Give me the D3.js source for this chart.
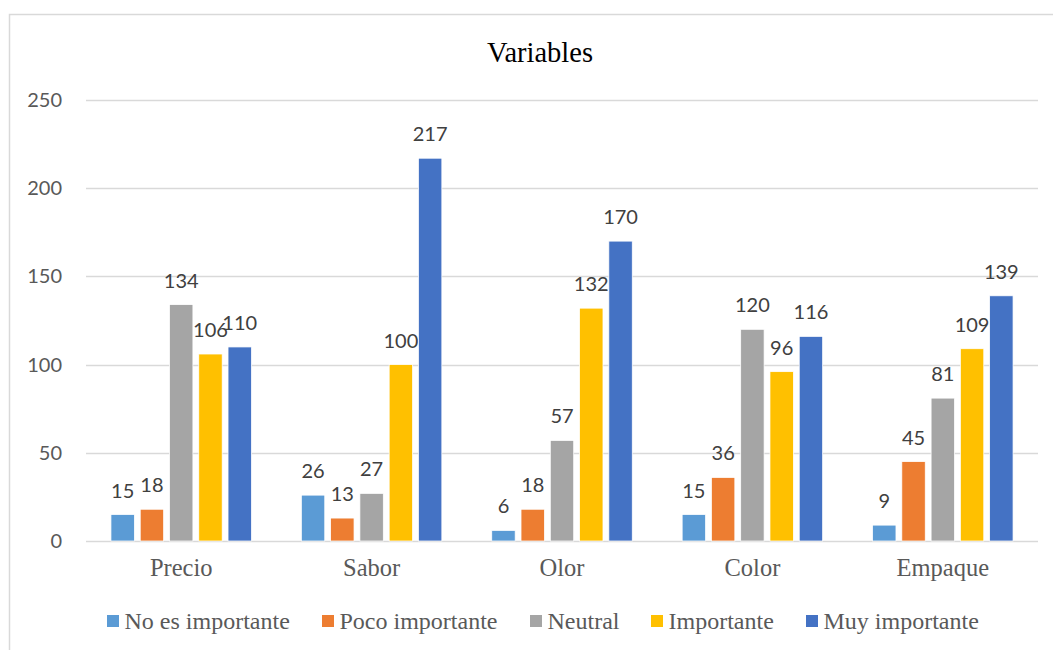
<!DOCTYPE html>
<html>
<head>
<meta charset="utf-8">
<script src="https://cdn.jsdelivr.net/npm/d3@7"></script>
<style>
  html, body { margin: 0; padding: 0; background: #fff; }
  svg { display: block; }
</style>
</head>
<body>
<svg id="chart" width="1053" height="650"></svg>
<script>
// Survey results: importance of each product variable
const categories = ["Precio", "Sabor", "Olor", "Color", "Empaque"];
const seriesNames = ["No es importante", "Poco importante", "Neutral", "Importante", "Muy importante"];
const noEsImportante = [15, 26, 6, 15, 9];
const pocoImportante = [18, 13, 18, 36, 45];
const neutral        = [134, 27, 57, 120, 81];
const importante     = [106, 100, 132, 96, 109];
const muyImportante  = [110, 217, 170, 116, 139];
const yTicks = [0, 50, 100, 150, 200, 250];
const colors = ["#5B9BD5", "#ED7D31", "#A5A5A5", "#FFC000", "#4472C4"];

const seriesValues = [noEsImportante, pocoImportante, neutral, importante, muyImportante];

const svg = d3.select("#chart");
const serif = "'Liberation Serif', 'Times New Roman', serif";
const sans = "Lato, 'Open Sans', 'Noto Sans', sans-serif";

// chart frame
svg.append("rect")
  .attr("x", 9.5).attr("y", 14.5)
  .attr("width", 1060).attr("height", 660)
  .attr("fill", "#fff").attr("stroke", "#d9d9d9").attr("stroke-width", 1.5);

const plot = { left: 86, right: 1038, top: 100, bottom: 541 };

const x0 = d3.scaleBand().domain(categories).range([plot.left, plot.right]);
const groupWidth = 140.5;
const x1 = d3.scaleBand().domain(seriesNames)
  .range([-groupWidth / 2, groupWidth / 2]).paddingInner(0.2);
const y = d3.scaleLinear().domain([0, 250]).range([plot.bottom, plot.top]);

// gridlines
svg.append("g").selectAll("line").data(yTicks).join("line")
  .attr("x1", plot.left).attr("x2", plot.right)
  .attr("y1", d => Math.round(y(d)) + 0.5).attr("y2", d => Math.round(y(d)) + 0.5)
  .attr("stroke", "#d9d9d9").attr("stroke-width", 1.3);

// y axis labels
const yAxis = d3.axisLeft(y).tickValues(yTicks).tickSize(0).tickPadding(0);
const yg = svg.append("g").attr("transform", `translate(62,0)`).call(yAxis);
yg.select(".domain").remove();
yg.selectAll("text")
  .attr("font-family", sans).attr("font-size", 20).attr("fill", "#595959");

// x axis labels
const xAxis = d3.axisBottom(x0).tickSize(0).tickPadding(0);
const xg = svg.append("g").attr("transform", `translate(0,${plot.bottom + 18})`).call(xAxis);
xg.select(".domain").remove();
xg.selectAll("text")
  .attr("font-family", serif).attr("font-size", 24.5).attr("fill", "#595959");

// bars and value labels
const groups = svg.append("g").selectAll("g").data(categories).join("g")
  .attr("transform", d => `translate(${x0(d) + x0.bandwidth() / 2},0)`);

const cells = groups.selectAll("g").data((c, ci) => seriesNames.map((s, si) => ({
  series: s, si, value: seriesValues[si][ci]
}))).join("g");

cells.append("rect")
  .attr("x", d => x1(d.series))
  .attr("width", x1.bandwidth())
  .attr("y", d => y(d.value))
  .attr("height", d => y(0) - y(d.value))
  .attr("fill", d => colors[d.si])
  .attr("stroke", "#fff").attr("stroke-width", 0.75);

cells.append("text")
  .attr("x", d => x1(d.series) + x1.bandwidth() / 2)
  .attr("y", d => y(d.value) - 17)
  .attr("text-anchor", "middle")
  .attr("font-family", sans).attr("font-size", 20).attr("fill", "#404040")
  .text(d => d.value);

// title
svg.append("text")
  .attr("x", 540).attr("y", 62)
  .attr("text-anchor", "middle")
  .attr("font-family", serif).attr("font-size", 28.5).attr("fill", "#000")
  .text("Variables");

// legend
const legendX = [107, 322, 530, 651, 806];
const legend = svg.append("g").selectAll("g").data(seriesNames).join("g")
  .attr("transform", (d, i) => `translate(${legendX[i]},615)`);
legend.append("rect")
  .attr("width", 12).attr("height", 12)
  .attr("fill", (d, i) => colors[i]);
legend.append("text")
  .attr("x", 17.5).attr("y", 13.5)
  .attr("font-family", serif).attr("font-size", 24).attr("fill", "#595959")
  .text(d => d);
</script>
</body>
</html>
